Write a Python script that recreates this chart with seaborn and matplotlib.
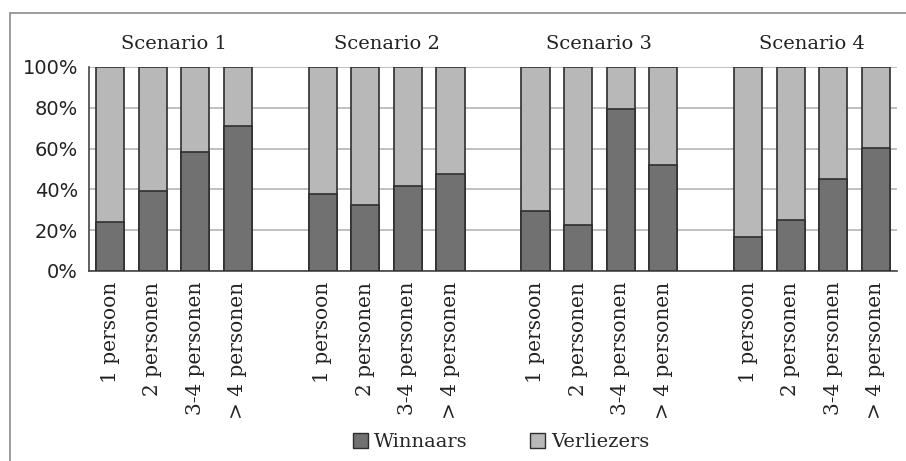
import matplotlib
matplotlib.use("Agg")
import matplotlib.pyplot as plt
from matplotlib.patches import Patch, Rectangle
import seaborn as sns
import pandas as pd

scenarios = ["Scenario 1", "Scenario 2", "Scenario 3", "Scenario 4"]
households = ["1 persoon", "2 personen", "3-4 personen", "> 4 personen"]
winnaars = {
    "Scenario 1": [24, 39, 58.5, 71],
    "Scenario 2": [37.7, 32.5, 41.8, 47.4],
    "Scenario 3": [29.6, 22.7, 79.6, 51.8],
    "Scenario 4": [16.5, 25.2, 45.3, 60.3],
}
verliezers = {
    "Scenario 1": [76, 61, 41.5, 29],
    "Scenario 2": [62.3, 67.5, 58.2, 52.6],
    "Scenario 3": [70.4, 77.3, 20.4, 48.2],
    "Scenario 4": [83.5, 74.8, 54.7, 39.7],
}
yticks = [0, 20, 40, 60, 80, 100]
ytick_labels = ["0%", "20%", "40%", "60%", "80%", "100%"]

# build slot order with blank gap slots between scenarios
rows = []
order = []
tick_text = []
for i, s in enumerate(scenarios):
    for j, h in enumerate(households):
        key = f"{s}|{h}"
        order.append(key)
        tick_text.append(h)
        rows.append({"slot": key, "Winnaars": winnaars[s][j],
                     "Totaal": winnaars[s][j] + verliezers[s][j]})
    if i < len(scenarios) - 1:
        gap = f"gap{i}"
        order.append(gap)
        tick_text.append("")
df = pd.DataFrame(rows)

sns.set_style("white")
plt.rcParams["font.family"] = ["DejaVu Serif"]

fig = plt.figure(figsize=(9.06, 4.61), dpi=100)
ax = fig.add_axes([89 / 906, 1 - 271 / 461, (897 - 89) / 906, (271 - 67) / 461])

dark = "#717171"
light = "#b8b8b8"
edge = "#2e2e2e"

sns.barplot(data=df, x="slot", y="Totaal", order=order, color=light,
            edgecolor=edge, linewidth=1.2, width=0.66, saturation=1, ax=ax,
            zorder=3)
sns.barplot(data=df, x="slot", y="Winnaars", order=order, color=dark,
            edgecolor=edge, linewidth=1.2, width=0.66, saturation=1, ax=ax,
            zorder=4)

ax.set_xlim(-0.5, len(order) - 0.5)
ax.set_ylim(0, 100)
ax.set_yticks(yticks)
ax.set_yticklabels(ytick_labels, family="DejaVu Sans", fontsize=14, color="#222222")
ax.set_xticks(range(len(order)))
ax.set_xticklabels(tick_text, rotation=90, fontsize=14.5, color="#222222")
ax.tick_params(axis="both", length=0)
ax.tick_params(axis="x", pad=8)
ax.tick_params(axis="y", pad=8)
ax.set_xlabel("")
ax.set_ylabel("")
ax.yaxis.grid(True, color="#b5b5b5", linewidth=1.2, zorder=0)
ax.set_axisbelow(True)
for sp in ["top", "right"]:
    ax.spines[sp].set_visible(False)
for sp in ["left", "bottom"]:
    ax.spines[sp].set_color("#444444")
    ax.spines[sp].set_linewidth(1.2)

# scenario titles above groups
for i, s in enumerate(scenarios):
    center = i * 5 + 1.5
    ax.text(center, 107, s, ha="center", va="bottom", fontsize=14,
            color="#222222", transform=ax.transData, clip_on=False)

handles = [Patch(facecolor=dark, edgecolor=edge, label="Winnaars"),
           Patch(facecolor=light, edgecolor=edge, label="Verliezers")]
fig.legend(handles=handles, loc="center", bbox_to_anchor=(501 / 906, 1 - 442 / 461),
           ncol=2, frameon=False, fontsize=14, handlelength=0.8, handleheight=0.8,
           columnspacing=3.2, handletextpad=0.3)

# outer frame
fig.add_artist(Rectangle((10 / 906, -0.2), 1.2, 1.2 + (1 - 13 / 461) - 1,
                         transform=fig.transFigure, fill=False,
                         edgecolor="#8a8a8a", linewidth=1.2))

fig.savefig("out.png", dpi=100)
